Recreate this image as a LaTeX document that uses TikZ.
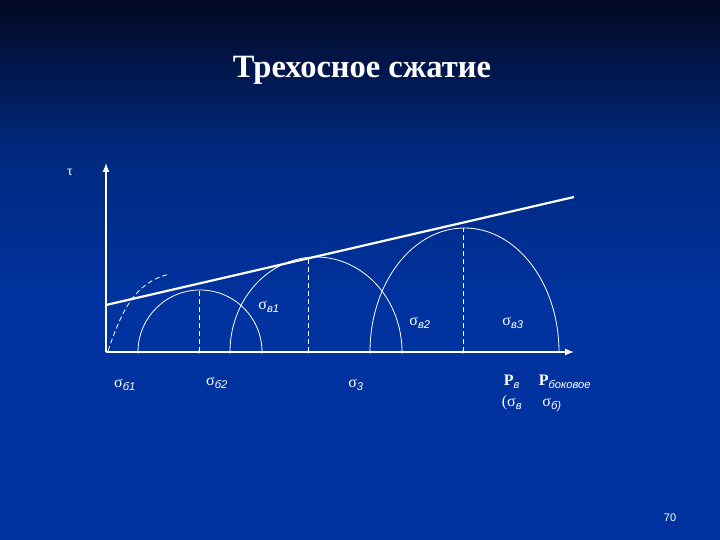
\documentclass[tikz,border=0pt]{standalone}
\usepackage{fontspec}
\setmainfont{Liberation Serif}
\setsansfont{Liberation Sans}
\usetikzlibrary{arrows}
\definecolor{slidetop}{RGB}{2,8,34}
\definecolor{slidemid}{RGB}{0,40,125}
\definecolor{slideblue}{RGB}{0,51,160}
\newcommand\sgm[1]{σ\textsubscript{\sffamily\itshape #1}}
\tikzset{
  axis/.style = {white, line width = 2pt},
  mohr/.style = {white, line width = .8pt},
  drop/.style = {white, dash pattern = on 5pt off 3pt, line width = .8pt},
  lbl/.style = {white, font = \fontsize{16}{18}\selectfont, inner sep = 0pt}
}
\begin{document}
\begin{tikzpicture} [x = 1pt, y = -1pt]
          \useasboundingbox (0,0) rectangle (720,540);
          \shade[top color = slidetop, bottom color = slidemid] (0,0) rectangle (720,150);
          \shade[top color = slidemid, bottom color = slideblue] (0,150) rectangle (720,300);
          \fill[slideblue] (0,300) rectangle (720,540);
          \node[white, font = \fontsize{32.5}{35}\selectfont\bfseries] (title) at (362,70) {Трехосное сжатие};
          \coordinate (O) at (106,352);
          \coordinate (tau) at (106,163);
          \coordinate (sig) at (574,352);
          \draw[axis, ->, >= latex] (O) -- (tau);
          \draw[axis, ->, >= latex] (O) -- (sig);
          % envelope
          \coordinate (e0) at (106,305);
          \coordinate (e1) at (574,197);
          \draw[axis, line width = 2.2pt] (e0) -- (e1);
          % first loading branch
          \draw[drop] (108,351) .. controls (122,310) and (135,282) .. (170,274);
          % circles
          \draw[mohr] (138,352) arc[start angle = 180, end angle = 360, x radius = 62, y radius = 62];
          \draw[mohr] (230,352) arc[start angle = 180, end angle = 360, x radius = 86, y radius = 95];
          \draw[mohr] (370,352) arc[start angle = 180, end angle = 360, x radius = 94.5, y radius = 124];
          \draw[drop] (199,352) -- (199,290);
          \draw[drop] (308,352) -- (308,259);
          \draw[drop] (463,352) -- (463,228);
          \foreach \t in {138,199,230,262,308,370,402,463}
            \fill[white] (\t,352) circle (1.6);
          % labels
          \node[lbl, font = \fontsize{14}{15}\selectfont] (t) at (70,172) {τ};
          \node[lbl] (sv1) at (269,307) {\sgm{в1}};
          \node[lbl] (sv2) at (420,323) {\sgm{в2}};
          \node[lbl] (sv3) at (513,323) {\sgm{в3}};
          \node[lbl] (sb1) at (125,385) {\sgm{б1}};
          \node[lbl] (sb2) at (217,383) {\sgm{б2}};
          \node[lbl] (s3) at (356,385) {\sgm{3}};
          \node[lbl] (pv) at (512,382) {\textbf{P}\textsubscript{\sffamily\itshape в}};
          \node[lbl] (pb) at (565,382) {\textbf{P}\textsubscript{\sffamily\itshape боковое}};
          \node[lbl] (bv) at (512,403) {(\sgm{в}};
          \node[lbl] (bb) at (552,405) {\sgm{б)}};
          \node[white, font = \sffamily\fontsize{11}{12}\selectfont] (page) at (670,518) {70};
        \end{tikzpicture}
\end{document}
